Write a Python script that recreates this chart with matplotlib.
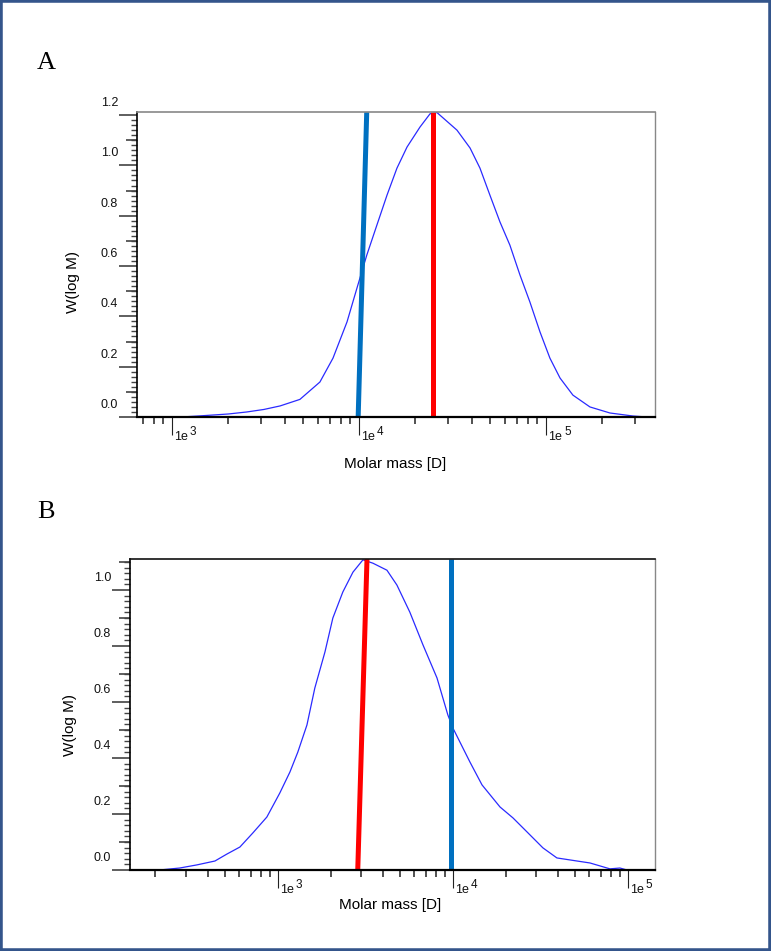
import numpy as np
import matplotlib.pyplot as plt
from matplotlib.ticker import FixedLocator, LogLocator, NullFormatter, MultipleLocator
from matplotlib.transforms import blended_transform_factory, offset_copy
from matplotlib.patches import Rectangle

plt.rcParams['font.family'] = ['Liberation Sans', 'DejaVu Sans']

# panel A : molar mass distribution
mass_a = [650, 1120, 1380, 2000, 2510, 3100, 3784, 4831, 6180, 7261, 8630,
          9750, 11015, 12470, 14125, 15960, 18070, 21180, 23990, 26120,
          33420, 39260, 44360, 50120, 56750, 64120, 72610, 82040, 92900,
          104950, 118850, 139300, 171800, 219800, 291700, 346700, 383000]
w_a = [0, 0, 0.004, 0.012, 0.02, 0.03, 0.044, 0.07, 0.139, 0.234, 0.378,
       0.512, 0.644, 0.763, 0.882, 0.989, 1.073, 1.152, 1.205, 1.21,
       1.14, 1.069, 0.989, 0.882, 0.775, 0.683, 0.564, 0.457, 0.338,
       0.234, 0.155, 0.087, 0.04, 0.016, 0.004, 0, 0]
blue_a = [9900, 11000]
red_a = [25000, 25000]
ytop_a = 1.212

# panel B
mass_b = [143, 212, 275, 344, 437, 512, 607, 719, 865, 1026, 1172, 1300,
          1466, 1626, 1858, 2061, 2350, 2685, 3062, 3491, 4198, 4786, 5675,
          6745, 8110, 9354, 10000, 12500, 14660, 18580, 22030, 26490, 32660,
          39260, 51170, 60670, 78890, 89950, 98620, 142600]
w_b = [0, 0, 0.007, 0.018, 0.032, 0.057, 0.082, 0.132, 0.189, 0.275, 0.35,
       0.421, 0.518, 0.65, 0.779, 0.9, 0.993, 1.064, 1.108, 1.096, 1.071,
       1.018, 0.921, 0.804, 0.686, 0.554, 0.507, 0.386, 0.304, 0.225,
       0.186, 0.136, 0.079, 0.043, 0.032, 0.025, 0.004, 0.007, 0, 0]
red_b = [2860, 3230]
blue_b = [9800, 9800]
ytop_b = 1.111

fig = plt.figure(figsize=(7.71, 9.51), dpi=100)
ax_a = fig.add_axes([0.1777, 0.5615, 0.6719, 0.3207])
ax_b = fig.add_axes([0.1686, 0.0852, 0.6809, 0.3270])


def style(ax, xlim, ytop, decades, top_color):
    ax.set_xscale('log')
    ax.set_xlim(*xlim)
    ax.set_ylim(0, ytop)
    ax.xaxis.set_major_locator(FixedLocator(decades))
    ax.xaxis.set_minor_locator(LogLocator(base=10, subs=np.arange(2, 10)))
    ax.xaxis.set_major_formatter(NullFormatter())
    ax.xaxis.set_minor_formatter(NullFormatter())
    ax.tick_params(axis='x', which='major', length=13, width=0.8, color='#222222')
    ax.tick_params(axis='x', which='minor', length=5, width=1.1, color='#222222')
    majors = np.arange(0, ytop + 1e-6, 0.2)
    mids = np.arange(0.1, ytop, 0.2)
    ax.yaxis.set_major_locator(FixedLocator(majors))
    ax.yaxis.set_minor_locator(MultipleLocator(0.02))
    ax.tick_params(axis='y', which='major', length=13, width=1.1, color='#333333', labelleft=False)
    ax.tick_params(axis='y', which='minor', length=4.3, width=1.0, color='#444444')
    sec = ax.secondary_yaxis('left')
    sec.yaxis.set_major_locator(FixedLocator(mids))
    sec.tick_params(length=8, width=1.1, color='#333333', labelleft=False)
    sec.spines['left'].set_visible(False)

    ax.spines['left'].set_linewidth(1.2)
    ax.spines['bottom'].set_linewidth(1.6)
    ax.spines['top'].set_color(top_color)
    ax.spines['top'].set_linewidth(1.2)
    ax.spines['right'].set_color('#888888')
    ax.spines['right'].set_linewidth(1.0)

    ytr = offset_copy(blended_transform_factory(ax.transAxes, ax.transData),
                      fig=fig, x=-19, y=12, units='dots')
    for v in majors:
        ax.text(0, v, f'{v:.1f}', transform=ytr, ha='right', va='center',
                fontsize=9, color='#111111')
    base = blended_transform_factory(ax.transData, ax.transAxes)
    btr = offset_copy(base, fig=fig, x=2, y=-20, units='dots')
    etr = offset_copy(base, fig=fig, x=18, y=-15, units='dots')
    for d in decades:
        ax.text(d, 0, '1e', transform=btr, ha='left', va='center',
                fontsize=9, color='#111111')
        ax.text(d, 0, str(int(np.log10(d))), transform=etr, ha='left',
                va='center', fontsize=8.5, color='#111111')


style(ax_a, (650, 383000), ytop_a, [1e3, 1e4, 1e5], '#888888')
ax_a.plot(mass_a, w_a, color='#2a2aff', lw=0.9)
ax_a.plot(blue_a, [0, ytop_a], color='#0070c0', lw=3.6, solid_capstyle='butt')
ax_a.plot(red_a, [0, ytop_a], color='#ff0000', lw=3.6, solid_capstyle='butt')

style(ax_b, (143, 142600), ytop_b, [1e3, 1e4, 1e5], '#111111')
ax_b.plot(mass_b, w_b, color='#2a2aff', lw=0.9)
ax_b.plot(red_b, [0, ytop_b], color='#ff0000', lw=3.6, solid_capstyle='butt')
ax_b.plot(blue_b, [0, ytop_b], color='#0070c0', lw=3.6, solid_capstyle='butt')

W, H = 771, 951
fig.text(395 / W, 1 - 464 / H, 'Molar mass [D]', ha='center', va='center', fontsize=11)
fig.text(390 / W, 1 - 905 / H, 'Molar mass [D]', ha='center', va='center', fontsize=11)
fig.text(73 / W, 1 - 282 / H, 'W(log M)', ha='center', va='center', rotation=90, fontsize=11)
fig.text(70 / W, 1 - 725 / H, 'W(log M)', ha='center', va='center', rotation=90, fontsize=11)
fig.text(46 / W, 1 - 63 / H, 'A', ha='center', va='center', fontsize=19, family='Liberation Serif')
fig.text(46 / W, 1 - 512 / H, 'B', ha='center', va='center', fontsize=19, family='Liberation Serif')

fig.patches.append(Rectangle((0, 0), 1, 1, transform=fig.transFigure, fill=False,
                             edgecolor='#34558b', lw=4))

fig.savefig('out.png', dpi=100)
